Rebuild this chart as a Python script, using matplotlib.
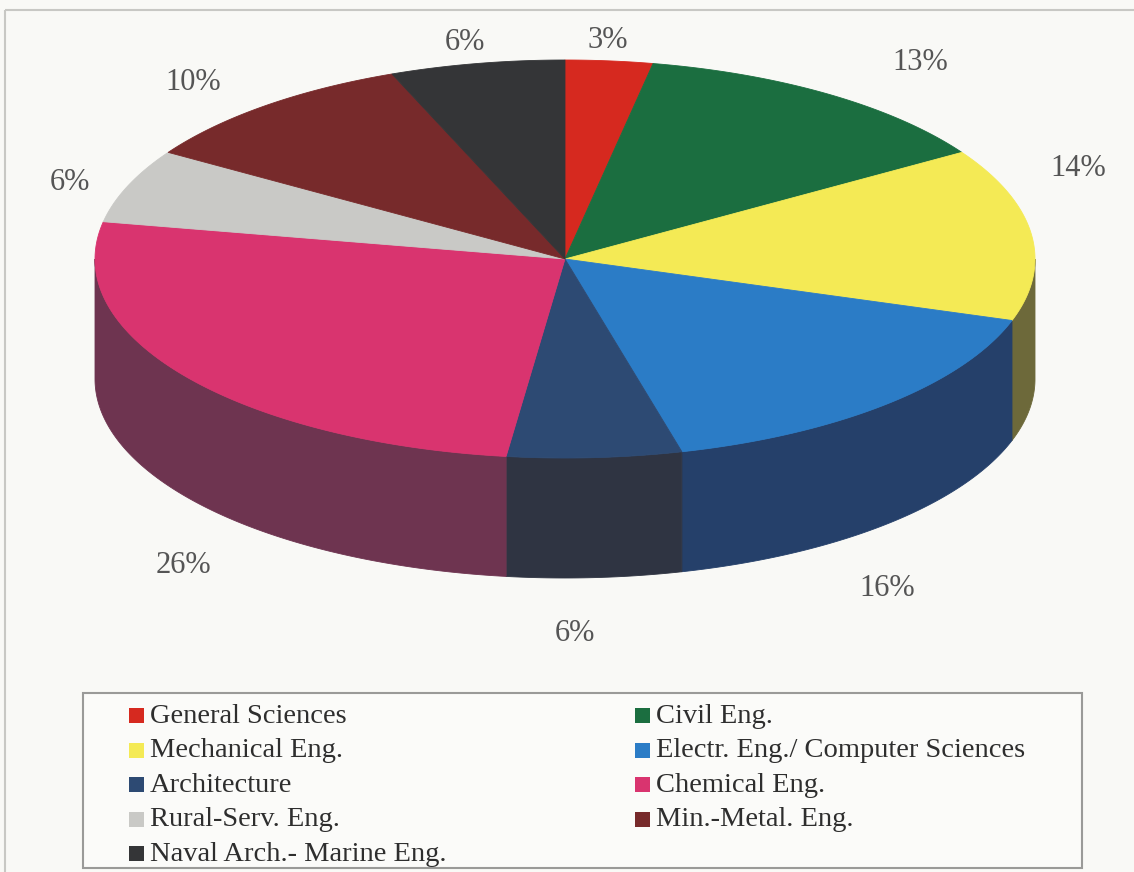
import numpy as np
import matplotlib.pyplot as plt
from matplotlib.patches import Polygon, Rectangle

# Share of students per school, going clockwise from 12 o'clock.
schools = ["General Sciences", "Civil Eng.", "Mechanical Eng.",
           "Electr. Eng./ Computer Sciences", "Architecture", "Chemical Eng.",
           "Rural-Serv. Eng.", "Min.-Metal. Eng.", "Naval Arch.- Marine Eng."]
shares = [3, 13, 14, 16, 6, 26, 6, 10, 6]

top_colors = ["#d6291f", "#1b6e40", "#f4ea55", "#2b7cc6", "#2d4a73",
              "#d9346f", "#c9c9c6", "#772a2b", "#343537"]
side_colors = ["#7a1a16", "#10442a", "#6d693a", "#25406a", "#2f3442",
               "#6e3450", "#7d7d7b", "#4a1c1d", "#222224"]

# where each percentage sits (pixel coords)
label_xy = [(608, 40), (920, 62), (1078, 168), (887, 588), (575, 633),
            (183, 565), (70, 183), (193, 82), (465, 42)]

W, H = 1134, 872
CX, CY = 565, 259      # centre of the top face
RX, RY = 470, 199      # ellipse radii
DEPTH = 120            # thickness of the disc

fig = plt.figure(figsize=(W / 100, H / 100), dpi=100)
fig.patch.set_facecolor("#f9f9f6")
ax = fig.add_axes([0, 0, 1, 1])
ax.set_xlim(0, W)
ax.set_ylim(H, 0)
ax.axis("off")

# page frame
ax.add_patch(Rectangle((5, 10), W + 20, H + 20, fill=False,
                       edgecolor="#c8c8c4", lw=1.5))


def rim(a0, a1, n=120):
    t = np.radians(np.linspace(a0, a1, n))
    return CX + RX * np.sin(t), CY - RY * np.cos(t)


bounds = np.concatenate([[0], np.cumsum(shares)]) / sum(shares) * 360.0

# side wall, only the front half (90..270 deg) shows
for i in range(len(shares)):
    a0 = max(bounds[i], 90)
    a1 = min(bounds[i + 1], 270)
    if a1 <= a0:
        continue
    x, y = rim(a0, a1)
    xs = np.concatenate([x, x[::-1]])
    ys = np.concatenate([y, y[::-1] + DEPTH])
    ax.add_patch(Polygon(np.column_stack([xs, ys]), closed=True,
                         facecolor=side_colors[i], edgecolor=side_colors[i], lw=0.6))

# top face wedges
for i in range(len(shares)):
    x, y = rim(bounds[i], bounds[i + 1])
    xs = np.concatenate([[CX], x])
    ys = np.concatenate([[CY], y])
    ax.add_patch(Polygon(np.column_stack([xs, ys]), closed=True,
                         facecolor=top_colors[i], edgecolor=top_colors[i], lw=0.6))

for v, (lx, ly) in zip(shares, label_xy):
    ax.text(lx, ly, "%d%%" % v, ha="center", va="center", fontsize=22,
            family="Liberation Serif", color="#555555")

# legend box, two columns filled row by row
ax.add_patch(Rectangle((83, 693), 999, 175, facecolor="#fbfbf9",
                       edgecolor="#9a9a98", lw=1.5))
col_x = [129, 635]
for i, name in enumerate(schools):
    sx = col_x[i % 2]
    sy = 716 + 34.5 * (i // 2)
    ax.add_patch(Rectangle((sx, sy - 8), 15, 15, facecolor=top_colors[i],
                           edgecolor="none"))
    ax.text(sx + 21, sy, name, ha="left", va="center", fontsize=20.5,
            family="Liberation Serif", color="#2e2e2e")

fig.savefig("out.png", dpi=100, facecolor=fig.get_facecolor())
